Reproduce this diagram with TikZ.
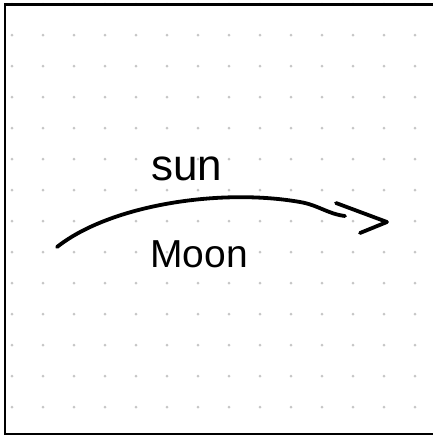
\documentclass[tikz,border=0pt]{standalone}
\usepackage{fontspec}
\setmainfont{Liberation Sans}
\begin{document}
\begin{tikzpicture}[x=1pt,y=-1pt,
  ink/.style={line width=3.8pt,line cap=round,line join=round}]
  \useasboundingbox (0,0) rectangle (432,437);
  \fill[white] (0,0) rectangle (432,437);
  \foreach \i in {0,...,13} {
    \foreach \j in {0,...,13} {
      \fill[gray!45] (12+31*\i,4+31*\j) circle (1.5pt);
    }
  }
  \draw[line width=2.6pt] (5,4.5) rectangle (436,434);
  \node[font=\fontsize{44}{44}\selectfont] (sun) at (187,169) {sun};
  \node[font=\fontsize{39}{39}\selectfont] (moon) at (199,254) {Moon};
  \coordinate (from) at (57,247);
  \coordinate (to) at (345,216);
  \coordinate (tip) at (387,222);
  \draw[ink] (from) .. controls (110,205) and (220,188) .. (300,202)
    .. controls (318,205) and (328,214) .. (to);
  \draw[ink] (336,203) -- (tip) -- (360,233);
\end{tikzpicture}
\end{document}
